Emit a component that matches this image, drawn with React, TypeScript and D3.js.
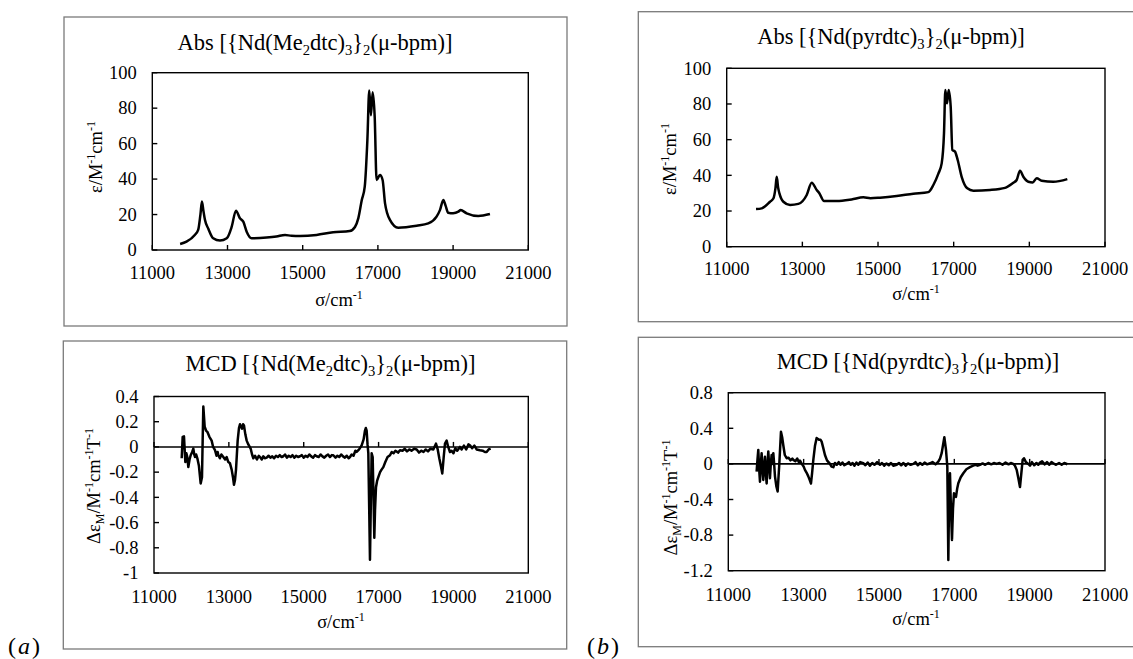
import React from "react";
import * as d3 from "d3";

const xTicks = [11000, 13000, 15000, 17000, 19000, 21000];
const absTicks = [0, 20, 40, 60, 80, 100];
const mcdATicks = [0.4, 0.2, 0, -0.2, -0.4, -0.6, -0.8, -1];
const mcdATickLabels = ["0.4", "0.2", "0", "-0.2", "-0.4", "-0.6", "-0.8", "-1"];
const mcdBTicks = [0.8, 0.4, 0, -0.4, -0.8, -1.2];
const mcdBTickLabels = ["0.8", "0.4", "0", "-0.4", "-0.8", "-1.2"];

type P = [number, number];

const absA: P[] = [
  [11740, 3.4], [11910, 4.7], [12130, 8.5], [12220, 11.3], [12280, 20], [12320, 27.3], [12360, 22],
  [12400, 17], [12490, 12], [12620, 6.6], [12800, 5.3], [12980, 6.6], [13110, 13], [13225, 22.2],
  [13330, 17.9], [13420, 16], [13510, 10.3], [13640, 6.6], [14040, 7], [14300, 7.6], [14530, 8.5],
  [14700, 8.0], [14930, 7.9], [15370, 8.5], [15810, 10], [16250, 10.7], [16390, 13], [16480, 18],
  [16570, 28], [16650, 35.7], [16720, 62], [16770, 90], [16815, 76], [16860, 89], [16915, 75],
  [16965, 39.5], [17055, 42.3], [17125, 39.5], [17190, 26.3], [17320, 17], [17540, 12.6],
  [18030, 13.7], [18340, 15], [18560, 18.8], [18650, 22.5], [18740, 28.2], [18800, 25], [18870, 21],
  [19000, 20.7], [19140, 21.6], [19200, 22.5], [19360, 20.7], [19670, 19.2], [19980, 20.3],
];

const absB: P[] = [
  [11775, 21.1], [11925, 21.5], [12145, 25.2], [12233, 27], [12290, 33], [12322, 39.2], [12360, 33],
  [12392, 30], [12498, 25.2], [12674, 23.4], [12894, 24], [13115, 29], [13247, 35.9], [13379, 31.8],
  [13449, 30], [13573, 25.6], [13907, 25.6], [14300, 26.5], [14612, 27.7], [14800, 27.2],
  [15053, 27.5], [15493, 28.4], [15934, 29.7], [16330, 30.6], [16463, 34.6], [16595, 41],
  [16683, 46.7], [16744, 63.5], [16780, 87.8], [16824, 80.3], [16868, 87.8], [16921, 78.5],
  [16965, 54.2], [17035, 53.3], [17106, 48.6], [17211, 39.2], [17361, 32.7], [17520, 31.4],
  [17960, 31.8], [18357, 33], [18577, 35.9], [18665, 37.4], [18753, 42.6], [18841, 39.2],
  [18974, 36.4], [19088, 36], [19194, 38.3], [19326, 37], [19634, 36.4], [20004, 37.9],
];

const mcdA: P[] = [
  [11740, -0.09], [11766, 0.08], [11801, 0.084], [11837, -0.12], [11865, -0.05], [11890, -0.08],
  [11917, -0.16], [11950, -0.1], [11980, -0.066], [12020, -0.04], [12051, -0.013], [12075, -0.06],
  [12095, -0.08], [12125, -0.06], [12158, -0.09], [12200, -0.15], [12247, -0.29], [12282, -0.24],
  [12300, 0.05], [12318, 0.32], [12354, 0.16], [12390, 0.13], [12425, 0.12], [12480, 0.08],
  [12540, 0.05], [12580, 0.0], [12630, -0.026], [12670, -0.07], [12700, -0.04], [12719, -0.066],
  [12760, -0.09], [12800, -0.06], [12852, -0.08], [12900, -0.1], [12940, -0.08], [12986, -0.12],
  [13030, -0.13], [13075, -0.18], [13110, -0.24], [13137, -0.3], [13165, -0.26], [13191, -0.18],
  [13235, 0.05], [13270, 0.15], [13297, 0.18], [13325, 0.16], [13351, 0.145], [13380, 0.18],
  [13404, 0.17], [13440, 0.1], [13476, 0.05], [13520, 0.02], [13582, -0.013], [13620, -0.06],
  [13654, -0.09], [13700, -0.07], [13750, -0.1], [13800, -0.07], [13832, -0.08], [13880, -0.1],
  [13920, -0.075], [13960, -0.09], [14010, -0.085], [14060, -0.07], [14110, -0.085], [14160, -0.075],
  [14210, -0.09], [14260, -0.07], [14310, -0.08], [14360, -0.065], [14410, -0.08], [14455, -0.074],
  [14500, -0.06], [14550, -0.085], [14600, -0.07], [14650, -0.08], [14700, -0.065], [14750, -0.085],
  [14800, -0.07], [14850, -0.08], [14900, -0.074], [14950, -0.065], [15000, -0.085], [15050, -0.07],
  [15100, -0.08], [15150, -0.06], [15200, -0.075], [15250, -0.085], [15300, -0.065], [15345, -0.074],
  [15400, -0.08], [15450, -0.06], [15500, -0.075], [15550, -0.085], [15600, -0.07], [15650, -0.06],
  [15700, -0.08], [15750, -0.065], [15790, -0.066], [15850, -0.085], [15900, -0.07], [15950, -0.08],
  [16000, -0.06], [16050, -0.075], [16100, -0.085], [16150, -0.07], [16200, -0.09], [16236, -0.08],
  [16280, -0.06], [16330, -0.07], [16380, -0.03], [16414, -0.04], [16480, -0.02], [16548, 0.013],
  [16600, 0.06], [16637, 0.13], [16660, 0.15], [16681, 0.13], [16705, 0.02], [16726, -0.05],
  [16750, -0.5], [16770, -0.895], [16790, -0.5], [16815, -0.05], [16842, -0.08], [16865, -0.4],
  [16886, -0.72], [16905, -0.5], [16931, -0.32], [16960, -0.27], [16993, -0.24], [17040, -0.2],
  [17080, -0.18], [17127, -0.16], [17180, -0.12], [17240, -0.08], [17305, -0.066], [17350, -0.04],
  [17400, -0.05], [17450, -0.03], [17520, -0.045], [17572, -0.026], [17640, -0.03], [17700, -0.015],
  [17760, -0.035], [17820, -0.02], [17880, -0.03], [17950, -0.015], [18017, -0.02], [18080, -0.045],
  [18140, -0.03], [18200, -0.04], [18260, -0.02], [18320, -0.035], [18380, -0.015], [18462, -0.02],
  [18533, 0.026], [18580, -0.02], [18622, -0.09], [18670, -0.16], [18702, -0.21], [18740, -0.08],
  [18774, 0.026], [18818, 0.05], [18860, 0.0], [18907, -0.04], [18950, -0.03], [19000, -0.05],
  [19050, -0.01], [19100, -0.03], [19174, 0], [19220, -0.02], [19280, 0.01], [19340, -0.02],
  [19400, 0.02], [19441, 0.013], [19500, -0.01], [19560, 0.01], [19620, -0.02], [19709, -0.026],
  [19780, -0.03], [19840, -0.04], [19887, -0.04], [19940, -0.02], [19994, -0.013],
];

const mcdB: P[] = [
  [11752, -0.086], [11775, 0.05], [11796, 0.157], [11818, -0.05], [11841, -0.2], [11863, 0.0],
  [11885, 0.12], [11907, -0.05], [11929, -0.18], [11951, -0.02], [11973, 0.08], [11995, -0.1],
  [12018, -0.22], [12040, 0.0], [12062, 0.14], [12084, -0.02], [12106, -0.16], [12128, 0.0],
  [12150, 0.1], [12172, 0.0], [12195, 0.12], [12217, 0.0], [12239, -0.14], [12275, -0.25],
  [12310, -0.31], [12354, 0], [12398, 0.36], [12430, 0.3], [12460, 0.21], [12500, 0.1],
  [12549, 0.064], [12600, 0.07], [12650, 0.04], [12700, 0.06], [12726, 0.045], [12780, 0.03],
  [12830, 0.06], [12870, 0.02], [12903, 0.037], [12950, 0.0], [13000, -0.03], [13035, -0.067],
  [13080, -0.1], [13124, -0.14], [13160, -0.18], [13195, -0.22], [13225, -0.1], [13257, 0.045],
  [13300, 0.2], [13345, 0.29], [13380, 0.28], [13416, 0.27], [13450, 0.27], [13478, 0.25],
  [13520, 0.18], [13566, 0.1], [13620, 0.04], [13699, 0], [13740, -0.03], [13788, -0.037],
  [13830, 0.01], [13880, -0.01], [13930, 0.02], [13980, -0.01], [14030, 0.015], [14080, -0.015],
  [14142, 0], [14200, 0.02], [14250, -0.01], [14300, 0.01], [14350, -0.02], [14400, 0.015],
  [14450, -0.01], [14500, 0.02], [14584, 0.007], [14640, -0.015], [14700, 0.015], [14760, -0.02],
  [14820, 0.01], [14880, -0.01], [14950, 0.02], [15027, -0.01], [15080, 0.01], [15140, -0.02],
  [15200, 0.005], [15260, -0.015], [15320, 0.01], [15380, -0.02], [15469, -0.01], [15530, 0.01],
  [15590, -0.015], [15650, 0.01], [15710, -0.02], [15770, 0.005], [15840, -0.01], [15912, 0],
  [15970, 0.02], [16030, -0.015], [16090, 0.01], [16150, -0.01], [16210, 0.015], [16280, -0.005],
  [16354, 0.007], [16420, 0.02], [16500, -0.005], [16575, 0.026], [16620, 0.06], [16664, 0.12],
  [16735, 0.3], [16779, 0.157], [16814, -0.03], [16841, -1.08], [16860, -0.4], [16885, -0.105],
  [16910, -0.5], [16938, -0.854], [16965, -0.5], [16991, -0.33], [17044, -0.37], [17075, -0.28],
  [17106, -0.217], [17170, -0.15], [17239, -0.105], [17320, -0.06], [17416, -0.037], [17500, -0.02],
  [17560, -0.01], [17620, -0.02], [17681, -0.01], [17750, 0.005], [17820, -0.01], [17900, 0.01],
  [17980, -0.005], [18050, 0.01], [18124, 0], [18200, 0.01], [18280, -0.01], [18360, 0.015],
  [18440, -0.005], [18500, 0.01], [18566, 0], [18610, -0.02], [18655, -0.067], [18700, -0.16],
  [18743, -0.26], [18780, -0.1], [18814, 0.045], [18850, 0.064], [18900, 0.02], [18965, 0],
  [19010, -0.02], [19060, 0.02], [19120, -0.015], [19180, 0.01], [19230, -0.01], [19274, 0.015],
  [19330, 0.03], [19400, -0.005], [19460, 0.02], [19520, -0.01], [19580, 0.02], [19628, 0.007],
  [19700, -0.01], [19780, 0.01], [19850, -0.01], [19920, 0.01], [20000, -0.004],
];

type Part = { t: string; s?: "sub" | "sup" };

const titleAbsA: Part[] = [
  { t: "Abs [{Nd(Me" }, { t: "2", s: "sub" }, { t: "dtc)" }, { t: "3", s: "sub" }, { t: "}" },
  { t: "2", s: "sub" }, { t: "(μ-bpm)]" },
];
const titleMcdA: Part[] = [
  { t: "MCD [{Nd(Me" }, { t: "2", s: "sub" }, { t: "dtc)" }, { t: "3", s: "sub" }, { t: "}" },
  { t: "2", s: "sub" }, { t: "(μ-bpm)]" },
];
const titleAbsB: Part[] = [
  { t: "Abs [{Nd(pyrdtc)" }, { t: "3", s: "sub" }, { t: "}" }, { t: "2", s: "sub" }, { t: "(μ-bpm)]" },
];
const titleMcdB: Part[] = [
  { t: "MCD [{Nd(pyrdtc)" }, { t: "3", s: "sub" }, { t: "}" }, { t: "2", s: "sub" }, { t: "(μ-bpm)]" },
];
const yLabelAbs: Part[] = [{ t: "ε/M" }, { t: "-1", s: "sup" }, { t: "cm" }, { t: "-1", s: "sup" }];
const yLabelMcd: Part[] = [
  { t: "Δε" }, { t: "M", s: "sub" }, { t: "/M" }, { t: "-1", s: "sup" }, { t: "cm" },
  { t: "-1", s: "sup" }, { t: "T" }, { t: "-1", s: "sup" },
];
const xLabel: Part[] = [{ t: "σ/cm" }, { t: "-1", s: "sup" }];

const FONT = '"Liberation Serif", "Tinos", "Times New Roman", monospace';
const txt = { fontFamily: FONT };

function Rich({ parts, size, subShift, supShift }: { parts: Part[]; size: number; subShift: number; supShift: number }) {
  let cur = 0;
  return (
    <>
      {parts.map((p, i) => {
        const target = p.s === "sub" ? subShift : p.s === "sup" ? -supShift : 0;
        const dy = target - cur;
        cur = target;
        return (
          <tspan key={i} dy={dy} fontSize={p.s ? size * 0.65 : size} style={txt}>
            {p.t}
          </tspan>
        );
      })}
    </>
  );
}

type PanelProps = {
  box: [number, number, number, number];
  l: number; r: number; t: number; b: number;
  yDomain: [number, number];
  yTicks: number[];
  yTickLabels: string[];
  data: P[];
  zero: boolean;
  smooth: boolean;
  title: Part[];
  titleX: number; titleY: number;
  yLabel: Part[];
  yLabelX: number; yLabelY: number;
  xTickY: number;
  xTitleX: number; xTitleY: number;
};

function Panel(p: PanelProps) {
  const x = d3.scaleLinear().domain([11000, 21000]).range([p.l, p.r]);
  const y = d3.scaleLinear().domain(p.yDomain).range([p.b, p.t]);
  const line = d3
    .line<P>()
    .x((d) => x(d[0]))
    .y((d) => y(d[1]))
    .curve(p.smooth ? d3.curveMonotoneX : d3.curveLinear);
  const axisY = p.zero ? y(0) : p.b;
  const tick = 5;
  const fs = 18.5;
  return (
    <g fill="#000">
      <rect x={p.box[0]} y={p.box[1]} width={p.box[2]} height={p.box[3]} fill="#fff" stroke="#7a7a7a" strokeWidth={1.3} />
      <text x={p.titleX} y={p.titleY} textAnchor="middle" fontSize={22.5} style={txt}>
        <Rich parts={p.title} size={22.5} subShift={5} supShift={8} />
      </text>
      <rect x={p.l} y={p.t} width={p.r - p.l} height={p.b - p.t} fill="none" stroke="#000" strokeWidth={1.4} />
      {p.yTicks.map((v, i) => (
        <g key={"y" + i}>
          <line x1={p.l} x2={p.l + tick} y1={y(v)} y2={y(v)} stroke="#000" strokeWidth={1.4} />
          <text x={p.l - 15.5} y={y(v) + 6.3} textAnchor="end" fontSize={fs} style={txt}>
            {p.yTickLabels[i]}
          </text>
        </g>
      ))}
      {p.zero && <line x1={p.l} x2={p.r} y1={axisY} y2={axisY} stroke="#000" strokeWidth={1.6} />}
      {xTicks.map((v) => (
        <g key={"x" + v}>
          <line x1={x(v)} x2={x(v)} y1={axisY} y2={axisY - tick} stroke="#000" strokeWidth={1.4} />
          <text x={x(v)} y={p.xTickY} textAnchor="middle" fontSize={fs} style={txt}>
            {v}
          </text>
        </g>
      ))}
      <path d={line(p.data) || ""} fill="none" stroke="#000" strokeWidth={2.5} strokeLinejoin="round" />
      <text x={p.xTitleX} y={p.xTitleY} textAnchor="middle" fontSize={fs} style={txt}>
        <Rich parts={xLabel} size={fs} subShift={4} supShift={7} />
      </text>
      <text transform={`translate(${p.yLabelX},${p.yLabelY}) rotate(-90)`} textAnchor="middle" fontSize={fs} style={txt}>
        <Rich parts={p.yLabel} size={fs} subShift={4} supShift={7} />
      </text>
    </g>
  );
}

export default function App() {
  return (
    <svg width={1133} height={659} style={{ position: "absolute", left: 0, top: 0, background: "#fff" }}>
      <rect x={0} y={0} width={1133} height={659} fill="#fff" />
      <Panel
        box={[64, 17, 503, 309]} l={152.3} r={528.3} t={72.7} b={250}
        yDomain={[0, 100]} yTicks={absTicks} yTickLabels={absTicks.map(String)}
        data={absA} zero={false} smooth={true} title={titleAbsA} titleX={315} titleY={49.5}
        yLabel={yLabelAbs} yLabelX={101.5} yLabelY={157}
        xTickY={279.3} xTitleX={339} xTitleY={306}
      />
      <Panel
        box={[63.3, 341, 503.4, 308]} l={154} r={528.3} t={396.5} b={573}
        yDomain={[-1, 0.4]} yTicks={mcdATicks} yTickLabels={mcdATickLabels}
        data={mcdA} zero={true} smooth={false} title={titleMcdA} titleX={330.5} titleY={370.5}
        yLabel={yLabelMcd} yLabelX={100} yLabelY={486}
        xTickY={602.7} xTitleX={341} xTitleY={628.3}
      />
      <Panel
        box={[638.3, 11.7, 520, 310]} l={726.7} r={1105} t={68.3} b={246.7}
        yDomain={[0, 100]} yTicks={absTicks} yTickLabels={absTicks.map(String)}
        data={absB} zero={false} smooth={true} title={titleAbsB} titleX={891} titleY={43.5}
        yLabel={yLabelAbs} yLabelX={676} yLabelY={159}
        xTickY={275} xTitleX={916} xTitleY={300}
      />
      <Panel
        box={[638.3, 337.3, 520, 309.4]} l={728.3} r={1105} t={392.7} b={570.7}
        yDomain={[-1.2, 0.8]} yTicks={mcdBTicks} yTickLabels={mcdBTickLabels}
        data={mcdB} zero={true} smooth={false} title={titleMcdB} titleX={918} titleY={369.3}
        yLabel={yLabelMcd} yLabelX={676.5} yLabelY={497.5}
        xTickY={601} xTitleX={916} xTitleY={625}
      />
      <text x={8} y={654} fontSize={24} letterSpacing={2} style={txt}>
        (<tspan fontStyle="italic" style={txt}>a</tspan>)
      </text>
      <text x={587} y={654} fontSize={24} letterSpacing={2} style={txt}>
        (<tspan fontStyle="italic" style={txt}>b</tspan>)
      </text>
    </svg>
  );
}
